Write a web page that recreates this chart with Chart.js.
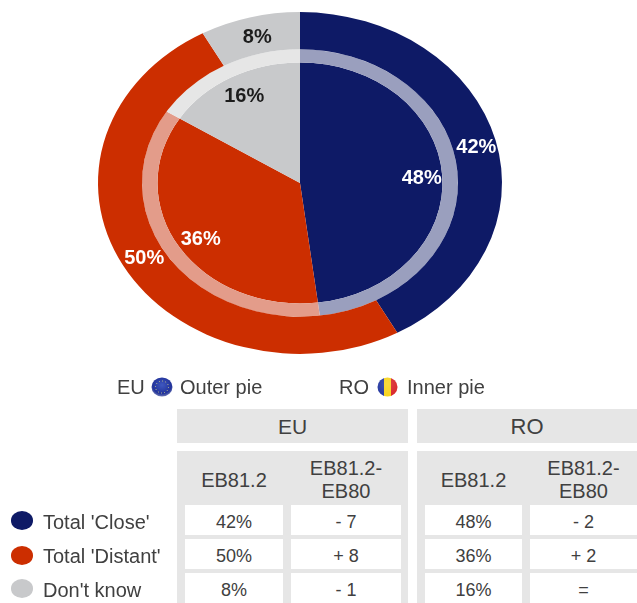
<!DOCTYPE html>
<html>
<head>
<meta charset="utf-8">
<script src="https://cdn.jsdelivr.net/npm/chart.js@4"></script>
<style>
html,body{margin:0;padding:0;background:#fff;}
#page{position:relative;width:637px;height:603px;overflow:hidden;font-family:"Liberation Sans",Arial,sans-serif;color:#404040;filter:blur(0.35px);}
#c{position:absolute;left:0;top:0;}
.b{position:absolute;display:flex;align-items:center;justify-content:center;text-align:center;white-space:nowrap;box-sizing:border-box;}
.g{background:#e6e6e6;}
.w{background:#fff;}
.t{position:absolute;white-space:nowrap;line-height:1;}
.dot{position:absolute;border-radius:50%;}
svg{position:absolute;}
</style>
</head>
<body>
<div id="page"><canvas id="c" width="637" height="603"></canvas></div>
<script>
const categories = ["Total 'Close'", "Total 'Distant'", "Don't know"];
const euShare = [42, 50, 8];
const roShare = [48, 36, 16];
const euChange = ["- 7", "+ 8", "- 1"];
const roChange = ["- 2", "+ 2", "="];
const groupLabels = ["EU", "RO"];
const columnLabels = ["EB81.2", "EB81.2-<br>EB80"];

const solid = ["#0e1a66", "#cc2e00", "#c8c9cb"];
const band = ["#9a9fbe", "#e39c8a", "#e6e6e6"];
const squash = 0.846, centreY = 183;

const ellipse = {
  id: "ellipse",
  beforeDatasetsDraw(chart) {
    const a = chart.getDatasetMeta(0).data[0];
    const c = chart.ctx;
    c.save();
    c.translate(a.x, centreY);
    c.scale(1, squash);
    c.translate(-a.x, -a.y);
  },
  afterDatasetsDraw(chart) { chart.ctx.restore(); }
};

const pctLabels = {
  id: "pctLabels",
  afterDraw(chart) {
    const c = chart.ctx;
    c.save();
    c.font = "bold 20px 'Liberation Sans', Arial, sans-serif";
    c.textAlign = "center";
    c.textBaseline = "middle";
    [[0, 180 / 202], [2, 120 / 142.5]].forEach(([ds, frac]) => {
      chart.getDatasetMeta(ds).data.forEach((arc, i) => {
        const mid = (arc.startAngle + arc.endAngle) / 2;
        const r = arc.outerRadius * frac;
        const x = arc.x + Math.cos(mid) * r + 2;
        const y = centreY + Math.sin(mid) * r * squash + 2;
        c.fillStyle = i === 2 ? "#1c1c1c" : "#ffffff";
        c.fillText(chart.data.datasets[ds].data[i] + "%", x, y);
      });
    });
    c.restore();
  }
};

new Chart(document.getElementById("c"), {
  type: "doughnut",
  data: {
    labels: categories,
    datasets: [
      { label: "EU", data: euShare, backgroundColor: solid, weight: 44, borderWidth: 0, hoverBorderWidth: 0 },
      { label: "RO band", data: roShare, backgroundColor: band, weight: 15.5, borderWidth: 0, hoverBorderWidth: 0 },
      { label: "RO", data: roShare, backgroundColor: solid, weight: 142.5, borderWidth: 0, hoverBorderWidth: 0 }
    ]
  },
  options: {
    responsive: false,
    animation: false,
    cutout: 0,
    layout: { padding: { left: 98, right: 135, top: 0, bottom: 199 } },
    plugins: { legend: { display: false }, tooltip: { enabled: false } }
  },
  plugins: [ellipse, pctLabels]
});

const page = document.getElementById("page");
function box(cls, x, y, w, h, html, size, nudge) {
  const d = document.createElement("div");
  d.className = "b " + cls;
  d.style.cssText = `left:${x}px;top:${y}px;width:${w}px;height:${h}px;font-size:${size}px;line-height:1.13;padding-top:${nudge || 0}px;`;
  d.innerHTML = html || "";
  page.appendChild(d);
  return d;
}
function text(x, y, s, size) {
  const d = document.createElement("div");
  d.className = "t";
  d.style.cssText = `left:${x}px;top:${y - size / 2}px;font-size:${size}px;`;
  d.textContent = s;
  page.appendChild(d);
}

// Table
const groups = [
  { x: 177, w: 231, cols: [[185, 98], [291, 110]], share: euShare, change: euChange, size: 21 },
  { x: 417, w: 220, cols: [[425, 97], [530, 107]], share: roShare, change: roChange, size: 22 }
];
const rowTops = [505, 539, 573];
const rowH = 30;
groups.forEach((g, gi) => {
  box("g", g.x, 409, g.w, 34, groupLabels[gi], g.size, 2);
  box("g", g.x, 451, g.w, 152);
  g.cols.forEach((col, ci) => {
    box("", col[0], 453, col[1], 52, columnLabels[ci], 20, 2);
    rowTops.forEach((top, ri) => {
      const v = ci === 0 ? g.share[ri] + "%" : g.change[ri];
      box("w", col[0], top, col[1], rowH, v, 18, 5);
    });
  });
});

// Category legend
const dotY = [520.5, 555, 588.5];
const textY = [522, 556, 590];
categories.forEach((name, i) => {
  const d = document.createElement("div");
  d.className = "dot";
  d.style.cssText = `left:10.5px;top:${dotY[i] - 9.5}px;width:22.5px;height:19px;background:${solid[i]};`;
  page.appendChild(d);
  text(43, textY[i], name, 20);
});

// Pie key
text(117, 387, "EU", 20);
text(180, 387, "Outer pie", 20);
text(339, 387, "RO", 20);
text(407, 387, "Inner pie", 20);

page.insertAdjacentHTML("beforeend", `
<svg style="left:151px;top:377px" width="22" height="20" viewBox="0 0 22 20">
  <defs><radialGradient id="eu" cx="50%" cy="40%" r="60%"><stop offset="0" stop-color="#3f58c0"/><stop offset="0.75" stop-color="#22339a"/><stop offset="1" stop-color="#6d78b4"/></radialGradient></defs>
  <ellipse cx="11" cy="10" rx="10.5" ry="9.5" fill="url(#eu)"/>
  <ellipse cx="11" cy="10" rx="6.5" ry="6" fill="none" stroke="#c9c98a" stroke-width="1" stroke-dasharray="1 2.2"/>
</svg>
<svg style="left:377px;top:377px" width="21" height="20" viewBox="0 0 21 20">
  <defs>
    <clipPath id="ro"><ellipse cx="10.5" cy="10" rx="10" ry="9.5"/></clipPath>
    <radialGradient id="sh" cx="50%" cy="35%" r="65%"><stop offset="0" stop-color="#fff" stop-opacity=".15"/><stop offset="1" stop-color="#fff" stop-opacity="0"/></radialGradient>
  </defs>
  <g clip-path="url(#ro)">
    <rect x="0" y="0" width="7" height="20" fill="#2438a0"/>
    <rect x="7" y="0" width="7" height="20" fill="#f7d31c"/>
    <rect x="14" y="0" width="7" height="20" fill="#d8262a"/>
    <rect x="0" y="0" width="21" height="20" fill="url(#sh)"/>
  </g>
</svg>`);
</script>
</body>
</html>
